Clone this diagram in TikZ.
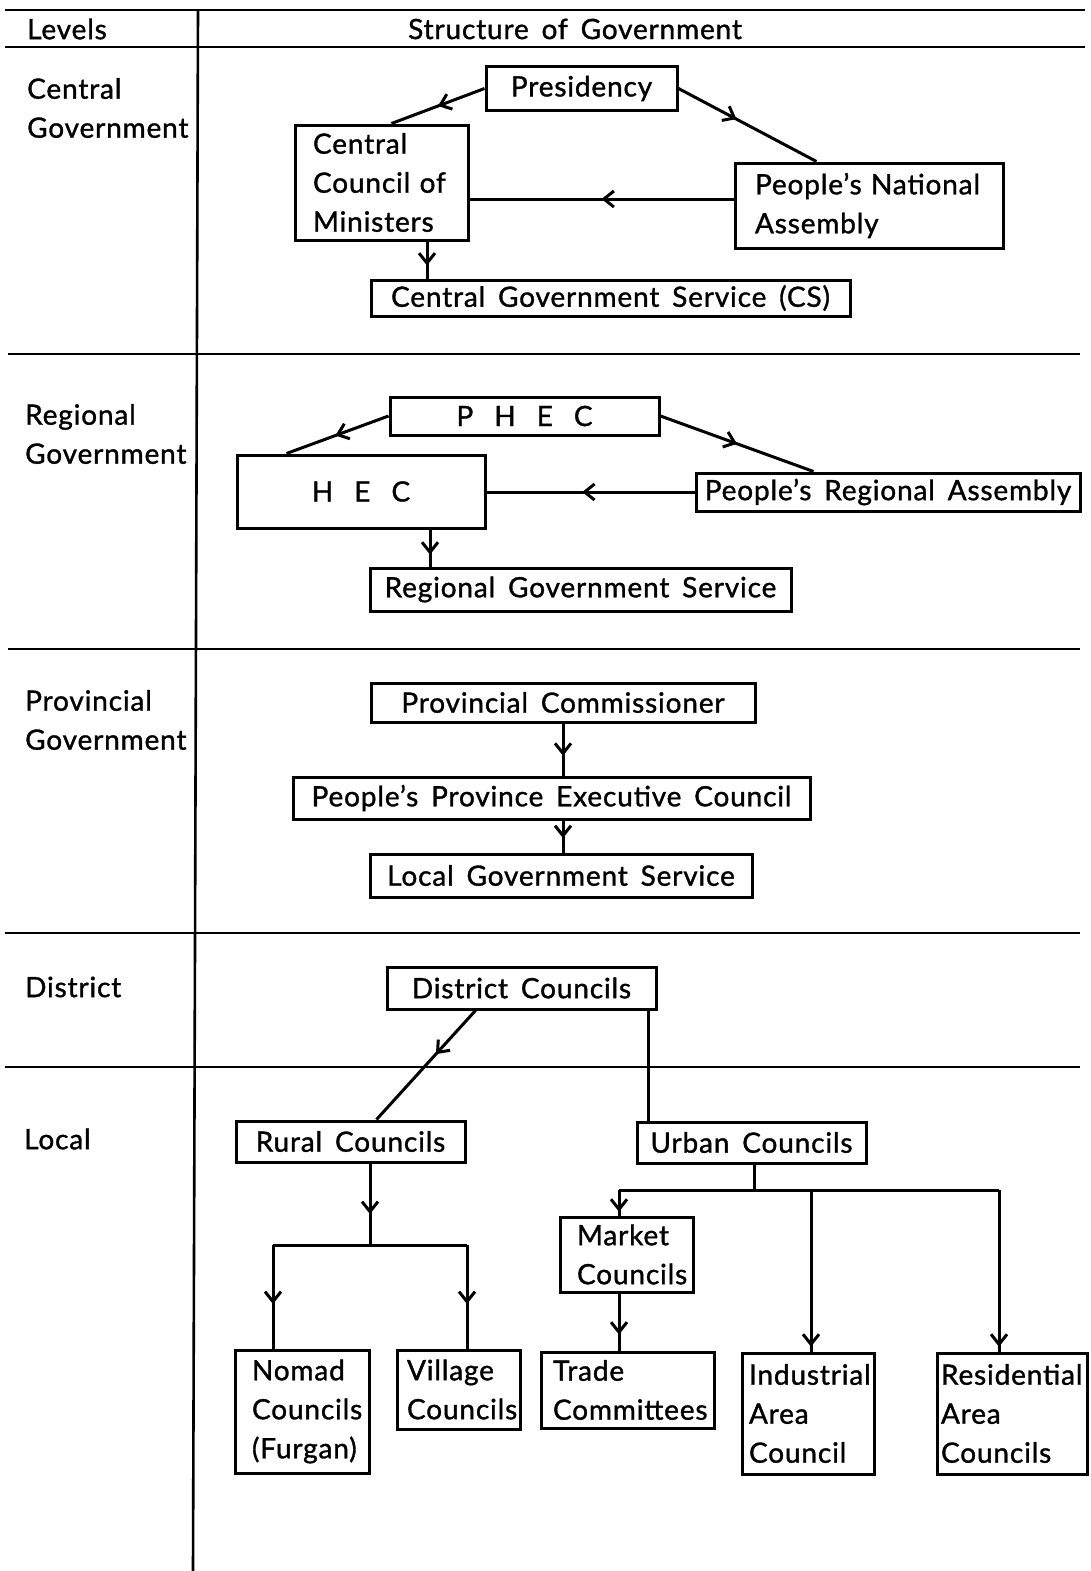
\documentclass[tikz,border=0pt]{standalone}
\usepackage{fontspec}
\setmainfont{Lato}[WordSpace=1.6, LetterSpace=3, FakeBold=1.2]
\usetikzlibrary{arrows.meta,decorations.markings}

\begin{document}
\begin{tikzpicture}[x=1pt,y=-1pt,
  every node/.style={font=\fontsize{28}{39}\selectfont, inner sep=0pt},
  rule/.style={line width=2.6pt},
  box/.style={draw, line width=3pt},
  mbox/.style={box, align=left},
  link/.style={line width=3pt},
  tip/.style={postaction={decorate}, decoration={markings,
      mark=at position #1 with {\arrow{Straight Barb[length=10pt,width=16pt]}}}},
  lab/.style={anchor=west, align=left},
]
\fill[white] (0,0) rectangle (1091,1571);
\useasboundingbox (0,0) rectangle (1091,1571);

% table rules
\draw[rule] (5,10) -- (1085,10);
\draw[rule] (5,47) -- (1085,47);
\draw[rule] (8,354) -- (1080,354);
\draw[rule] (8,649) -- (1080,649);
\draw[rule] (5,933) -- (1080,933);
\draw[rule] (5,1067) -- (1080,1067);
\draw[rule] (198,10) -- (193,1571);

% header
\node[lab] (hlevels) at (27,29) {Levels};
\node (hstruct) at (575,29) {Structure of Government};

% level labels
\node[lab] (lcentral) at (27,108) {Central\\Government};
\node[lab] (lregional) at (25,434) {Regional\\Government};
\node[lab] (lprovincial) at (25,720) {Provincial\\Government};
\node[lab] (ldistrict) at (25,987) {District};
\node[lab] (llocal) at (24,1139) {Local};

% central government
\node[box, minimum width=191pt, minimum height=43pt] (pres) at (581.5,88.5) {Presidency};
\node[mbox, minimum width=173pt, minimum height=115pt, text width=137pt] (ccm) at (381.5,182.5) {Central\\Council~of\\Ministers};
\node[mbox, minimum width=268pt, minimum height=85pt, text width=228pt] (pna) at (869,205.5) {People's~National\\Assembly};
\node[box, minimum width=479pt, minimum height=36pt] (cgs) at (610.5,298) {Central Government Service (CS)};

\draw[link, tip=0.5] (pres.west) -- ([xshift=98pt]ccm.north west);
\draw[link, tip=0.42] (pres.east) -- ([xshift=83pt]pna.north west);
\draw[link, tip=0.5] ([yshift=6.5pt]pna.west) -- ([yshift=6.5pt]pna.west -| ccm.east);
\draw[link, tip=0.65] ([xshift=45.5pt]ccm.south) -- ([xshift=45.5pt]ccm.south |- cgs.north);

% regional government
\node[box, minimum width=269pt, minimum height=38pt] (phec) at (524.5,416) {P\hspace{21pt}H\hspace{21pt}E\hspace{21pt}C};
\node[box, minimum width=248pt, minimum height=73pt] (hec) at (361,491.5) {H\hspace{21pt}E\hspace{21pt}C};
\node[box, minimum width=384pt, minimum height=38pt] (pra) at (888,492) {People's Regional Assembly};
\node[box, minimum width=421pt, minimum height=43pt] (rgs) at (580.5,589.5) {Regional Government Service};

\draw[link, tip=0.52] (phec.west) -- ([xshift=51pt]hec.north west);
\draw[link, tip=0.5] (phec.east) -- ([xshift=119pt]pra.north west);
\draw[link, tip=0.54] (pra.west) -- (pra.west -| hec.east);
\draw[link, tip=0.68] ([xshift=69pt]hec.south) -- ([xshift=69pt]hec.south |- rgs.north);

% provincial government
\node[box, minimum width=384pt, minimum height=39pt] (pc) at (563,702.5) {Provincial Commissioner};
\node[box, minimum width=517pt, minimum height=42pt] (ppec) at (551.5,798) {People's Province Executive Council};
\node[box, minimum width=382pt, minimum height=43pt] (lgs) at (561,875.5) {Local Government Service};

\draw[link, tip=0.62] (pc.south) -- (pc.south |- ppec.north);
\draw[link, tip=0.55] (pc.south |- ppec.south) -- (pc.south |- lgs.north);

% district
\node[box, minimum width=269pt, minimum height=42pt] (dc) at (521.5,988) {District Councils};

% local
\node[box, minimum width=229pt, minimum height=41pt] (rural) at (350.5,1141.5) {Rural Councils};
\node[box, minimum width=229pt, minimum height=41pt] (urban) at (751.5,1142.5) {Urban Councils};
\node[mbox, minimum width=133pt, minimum height=75pt, text width=99pt] (market) at (626.5,1254.5) {Market\\Councils};
\node[mbox, minimum width=134pt, minimum height=123pt, text width=100pt] (nomad) at (302,1411.5) {Nomad\\Councils\\(Furgan)};
\node[mbox, minimum width=123pt, minimum height=79pt, text width=103pt] (village) at (458.5,1389.5) {Village\\Councils};
\node[mbox, minimum width=173pt, minimum height=76pt, text width=149pt] (trade) at (627.5,1390) {Trade\\Committees};
\node[mbox, minimum width=132pt, minimum height=121pt, text width=118pt] (industrial) at (808,1413.5) {Industrial\\Area\\Council};
\node[mbox, minimum width=150pt, minimum height=121pt, text width=142pt] (residential) at (1012,1413.5) {Residential\\Area\\Councils};

\draw[link, tip=0.4] ([xshift=90pt]dc.south west) -- ([xshift=142pt]rural.north west);
\draw[link] ([xshift=-9pt]dc.south east) -- ([xshift=-9pt]dc.south east |- urban.north);

% rural branches
\coordinate (rj) at (370,1245);
\coordinate (nj) at (273,1245);
\coordinate (vj) at (467,1245);
\draw[link, tip=0.62] (rj |- rural.south) -- (rj);
\draw[link] (nj) -- (vj);
\draw[link, tip=0.57] (nj) -- (nj |- nomad.north);
\draw[link, tip=0.57] (vj) -- (vj |- village.north);

% urban branches
\coordinate (uj) at (754,1190);
\coordinate (mj) at (619,1190);
\coordinate (ij) at (811,1190);
\coordinate (sj) at (999,1190);
\draw[link] (uj |- urban.south) -- (uj);
\draw[link] (mj) -- (sj);
\draw[link, tip=0.85] (mj) -- (mj |- market.north);
\draw[link, tip=0.72] (mj |- market.south) -- (mj |- trade.north);
\draw[link, tip=0.97] (ij) -- (ij |- industrial.north);
\draw[link, tip=0.97] (sj) -- (sj |- residential.north);
\end{tikzpicture}
\end{document}
